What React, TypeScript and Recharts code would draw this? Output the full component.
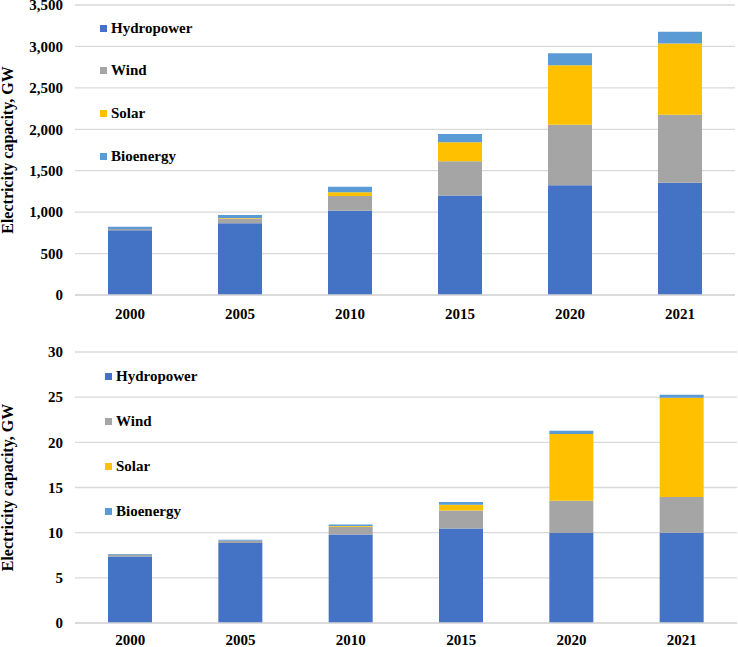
import React from "react";
import { BarChart, Bar, XAxis, YAxis, CartesianGrid } from "recharts";

const years = ["2000", "2005", "2010", "2015", "2020", "2021"];

// Top chart (GW)
const hydroTop = [780, 865, 1017, 1200, 1325, 1355];
const windTop = [17, 59, 178, 415, 730, 820];
const solarTop = [1, 4, 45, 228, 718, 860];
const bioTop = [25, 38, 67, 100, 145, 143];

// Bottom chart (GW)
const hydroBot = [7.35, 8.85, 9.8, 10.45, 9.96, 9.98];
const windBot = [0.2, 0.25, 0.85, 2.0, 3.57, 3.96];
const solarBot = [0.0, 0.0, 0.1, 0.65, 7.4, 11.0];
const bioBot = [0.1, 0.12, 0.15, 0.3, 0.35, 0.33];

const topTicks = [0, 500, 1000, 1500, 2000, 2500, 3000, 3500];
const botTicks = [0, 5, 10, 15, 20, 25, 30];

const seriesNames = ["Hydropower", "Wind", "Solar", "Bioenergy"];
const colors = ["#4472C4", "#A5A5A5", "#FFC000", "#5B9BD5"];
const keys = ["hydro", "wind", "solar", "bio"];

const topData = years.map((y, i) => ({
  year: y,
  hydro: hydroTop[i],
  wind: windTop[i],
  solar: solarTop[i],
  bio: bioTop[i],
}));
const botData = years.map((y, i) => ({
  year: y,
  hydro: hydroBot[i],
  wind: windBot[i],
  solar: solarBot[i],
  bio: bioBot[i],
}));

const FONT = "'Liberation Serif', 'Times New Roman', serif";

function LegendBox(props: { top: number; left: number; itemH: number; sq: number; gap: number; fs: number }) {
  return (
    <div
      style={{
        position: "absolute",
        top: props.top,
        left: props.left,
        fontFamily: FONT,
        fontWeight: "bold",
        fontSize: props.fs,
        color: "#000",
      }}
    >
      {seriesNames.map((n, i) => (
        <div key={n} style={{ height: props.itemH, display: "flex", alignItems: "center" }}>
          <span
            style={{ display: "inline-block", width: props.sq, height: props.sq, background: colors[i], marginRight: props.gap }}
          />
          <span>{n}</span>
        </div>
      ))}
    </div>
  );
}

const fmt = (v: number) => v.toLocaleString("en-US");

function Panel(props: {
  data: any[];
  ticks: number[];
  max: number;
  height: number;
  margin: any;
  xHeight: number;
  tickMarginX: number;
  titleDx: number;
}) {
  return (
    <BarChart width={738} height={props.height} data={props.data} margin={props.margin} barSize={44}>
      <CartesianGrid vertical={false} stroke="#D9D9D9" strokeWidth={1.3} />
      <XAxis
        dataKey="year"
        tickLine={false}
        axisLine={{ stroke: "#D9D9D9", strokeWidth: 1.3 }}
        height={props.xHeight}
        tickMargin={props.tickMarginX}
        tick={{ fill: "#000", fontFamily: FONT, fontWeight: "bold", fontSize: 15 }}
        interval={0}
      />
      <YAxis
        width={75}
        domain={[0, props.max]}
        ticks={props.ticks}
        interval={0}
        tickLine={false}
        axisLine={false}
        tickSize={0}
        tickMargin={12}
        tickFormatter={fmt}
        tick={{ fill: "#000", fontFamily: FONT, fontWeight: "bold", fontSize: 15 }}
        label={{
          value: "Electricity capacity, GW",
          angle: -90,
          position: "insideLeft",
          offset: 7,
          dx: props.titleDx,
          style: { textAnchor: "middle", fill: "#000", fontFamily: FONT, fontWeight: "bold", fontSize: 16 },
        }}
      />
      {keys.map((k, i) => (
        <Bar key={k} dataKey={k} name={seriesNames[i]} stackId="a" fill={colors[i]} isAnimationActive={false} />
      ))}
    </BarChart>
  );
}

export default function App() {
  return (
    <div style={{ position: "absolute", left: 0, top: 0, width: 738, height: 647, background: "#fff", overflow: "hidden" }}>
      <div style={{ position: "absolute", left: 0, top: 0 }}>
        <Panel
          data={topData}
          ticks={topTicks}
          max={3500}
          height={332}
          margin={{ top: 5, right: 3, left: 0, bottom: 12 }}
          xHeight={25}
          tickMarginX={7}
          titleDx={0}
        />
      </div>
      <div style={{ position: "absolute", left: 0, top: 320 }}>
        <Panel
          data={botData}
          ticks={botTicks}
          max={30}
          height={327}
          margin={{ top: 32, right: 1, left: 0, bottom: 0 }}
          xHeight={24}
          tickMarginX={5}
          titleDx={0}
        />
      </div>
      <LegendBox top={6.7} left={100} itemH={42.7} sq={7} gap={4} fs={15} />
      <LegendBox top={354.2} left={105} itemH={45} sq={7} gap={4} fs={15} />
    </div>
  );
}
